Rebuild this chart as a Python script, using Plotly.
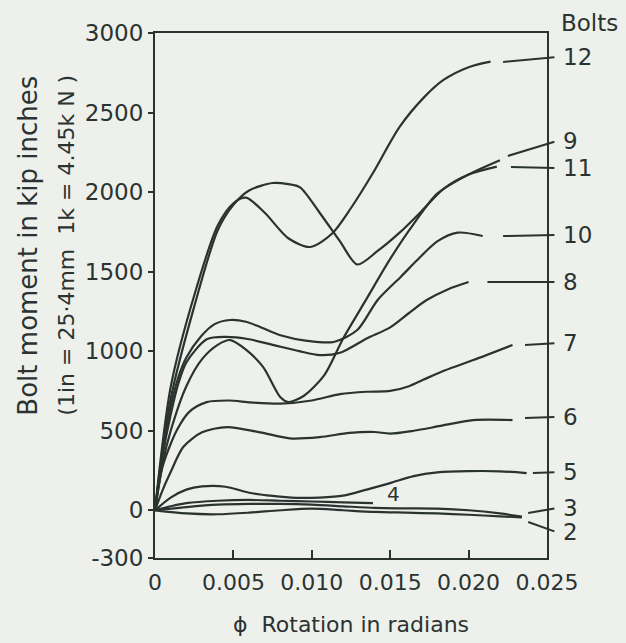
import plotly.graph_objects as go

# ---------------- data ----------------
x12 = [0, 0.001, 0.0025, 0.004, 0.005, 0.0058, 0.007, 0.0085, 0.0099, 0.0113, 0.0125, 0.0139, 0.0156, 0.0172, 0.0184, 0.020, 0.0214]
y12 = [0, 775, 1350, 1790, 1930, 1965, 1870, 1710, 1655, 1740, 1900, 2120, 2410, 2600, 2705, 2785, 2820]

x11 = [0, 0.001, 0.0025, 0.004, 0.005, 0.006, 0.0075, 0.0085, 0.00925, 0.0105, 0.0118, 0.0129, 0.0142, 0.0156, 0.017, 0.0184, 0.020, 0.0218]
y11 = [0, 700, 1280, 1760, 1920, 2010, 2057, 2050, 2030, 1870, 1690, 1545, 1630, 1745, 1880, 2020, 2110, 2160]

x9 = [0, 0.0005, 0.001, 0.002, 0.003, 0.004, 0.0048, 0.0058, 0.0069, 0.008, 0.0085, 0.0095, 0.0108, 0.012, 0.0135, 0.015, 0.0165, 0.018, 0.020, 0.022]
y9 = [0, 300, 500, 780, 950, 1040, 1070, 1010, 900, 710, 680, 720, 850, 1080, 1330, 1580, 1800, 1990, 2110, 2200]

x10 = [0, 0.0005, 0.001, 0.0015, 0.002, 0.0029, 0.0038, 0.0048, 0.0058, 0.0067, 0.008, 0.0097, 0.0114, 0.0129, 0.0142, 0.0157, 0.0169, 0.018, 0.0193, 0.0209]
y10 = [0, 380, 650, 840, 960, 1089, 1170, 1196, 1185, 1152, 1100, 1065, 1058, 1133, 1322, 1470, 1590, 1690, 1745, 1724]

x8 = [0, 0.0005, 0.001, 0.0015, 0.002, 0.0033, 0.0045, 0.006, 0.0075, 0.0092, 0.0105, 0.0118, 0.0135, 0.015, 0.0162, 0.0173, 0.0187, 0.020]
y8 = [0, 350, 600, 800, 930, 1075, 1090, 1075, 1040, 1000, 975, 990, 1080, 1150, 1240, 1320, 1390, 1435]

x7 = [0, 0.0005, 0.0014, 0.0022, 0.0033, 0.0047, 0.0061, 0.008, 0.010, 0.0118, 0.0135, 0.015, 0.0162, 0.0171, 0.0185, 0.0203, 0.0228]
y7 = [0, 280, 504, 620, 680, 690, 678, 670, 690, 730, 745, 750, 780, 820, 880, 944, 1039]

x6 = [0, 0.0005, 0.001, 0.0018, 0.003, 0.0046, 0.0067, 0.0086, 0.0105, 0.0124, 0.014, 0.015, 0.0165, 0.0182, 0.0203, 0.0228]
y6 = [0, 130, 240, 398, 490, 523, 490, 452, 460, 486, 492, 482, 500, 530, 567, 567]

x5 = [0, 0.001, 0.002, 0.003, 0.0045, 0.006, 0.0075, 0.009, 0.0105, 0.012, 0.0135, 0.015, 0.0165, 0.018, 0.020, 0.022, 0.0237]
y5 = [0, 80, 130, 150, 148, 110, 90, 78, 80, 92, 130, 171, 215, 238, 246, 245, 234]

x4 = [0, 0.001, 0.002, 0.004, 0.006, 0.008, 0.010, 0.012, 0.0139]
y4 = [0, 25, 45, 60, 65, 60, 55, 50, 45]

x3 = [0, 0.002, 0.004, 0.006, 0.008, 0.010, 0.012, 0.014, 0.016, 0.018, 0.020, 0.022, 0.0234]
y3 = [0, 20, 35, 40, 40, 35, 25, 15, 12, 10, 0, -20, -40]

x2 = [0, 0.002, 0.004, 0.006, 0.008, 0.010, 0.012, 0.014, 0.016, 0.018, 0.020, 0.022, 0.0234]
y2 = [0, -20, -25, -15, 0, 10, 0, -10, -15, -20, -28, -38, -45]

bolt_labels = ["12", "9", "11", "10", "8", "7", "6", "5", "3", "2"]
label_y = [2849, 2320, 2151, 1730, 1435, 1051, 586, 240, 14, -137]
leader_x0 = [0.0222, 0.0225, 0.0227, 0.0222, 0.0212, 0.0236, 0.0236, 0.0241, 0.0238, 0.0238]
leader_y0 = [2818, 2227, 2158, 1724, 1435, 1039, 580, 234, -17, -74]

x_ticks = [0, 0.005, 0.010, 0.015, 0.020, 0.025]
x_ticktext = ["0", "0.005", "0.010", "0.015", "0.020", "0.025"]
y_ticks = [-300, 0, 500, 1000, 1500, 2000, 2500, 3000]
y_ticktext = ["-300", "0", "500", "1000", "1500", "2000", "2500", "3000"]

curves = [(x12, y12), (x11, y11), (x9, y9), (x10, y10), (x8, y8), (x7, y7),
          (x6, y6), (x5, y5), (x4, y4), (x3, y3), (x2, y2)]

# ---------------- style ----------------
INK = "#2b3330"
BG = "#eef0ec"
FONT = "DejaVu Sans"

fig = go.Figure()
for xs, ys in curves:
    fig.add_trace(go.Scatter(x=xs, y=ys, mode="lines",
                             line=dict(color=INK, width=2.2, shape="spline", smoothing=0.8),
                             hoverinfo="skip", showlegend=False))

ann = []
for lab, ly, lx0, ly0 in zip(bolt_labels, label_y, leader_x0, leader_y0):
    ann.append(dict(x=lx0, y=ly0, xref="x", yref="y", ax=0.0256, ay=ly,
                    axref="x", ayref="y", text=" ", showarrow=True, arrowhead=0,
                    arrowwidth=2, arrowcolor=INK, font=dict(size=2)))
    ann.append(dict(x=1, y=ly, xref="paper", yref="y", xshift=14, xanchor="left",
                    yanchor="middle", text=lab, showarrow=False,
                    font=dict(family=FONT, size=23, color=INK)))

ann.append(dict(x=1, y=1, xref="paper", yref="paper", xshift=12, yshift=10,
                xanchor="left", yanchor="middle", text="Bolts", showarrow=False,
                font=dict(family=FONT, size=23, color=INK)))
ann.append(dict(x=0.0152, y=100, xref="x", yref="y", text="4", showarrow=False,
                font=dict(family=FONT, size=20, color=INK)))
ann.append(dict(x=0, y=0.595, xref="paper", yref="paper", xshift=-127,
                xanchor="center", yanchor="middle", textangle=-90,
                text="Bolt moment in kip inches", showarrow=False,
                font=dict(family=FONT, size=26, color=INK)))
ann.append(dict(x=0, y=0.595, xref="paper", yref="paper", xshift=-88,
                xanchor="center", yanchor="middle", textangle=-90,
                text="(1in = 25·4mm  1k = 4.45k N )", showarrow=False,
                font=dict(family=FONT, size=22, color=INK)))
ann.append(dict(x=0.5, y=0, xref="paper", yref="paper", yshift=-66,
                xanchor="center", yanchor="middle",
                text="ϕ  Rotation in radians", showarrow=False,
                font=dict(family=FONT, size=22, color=INK)))

fig.update_layout(
    width=626, height=643,
    margin=dict(l=155, r=79, t=33, b=85),
    paper_bgcolor=BG, plot_bgcolor=BG,
    font=dict(family=FONT, size=22, color=INK),
    annotations=ann,
    showlegend=False,
)
fig.update_xaxes(range=[0, 0.025], tickvals=x_ticks, ticktext=x_ticktext,
                 ticks="inside", ticklen=8, tickwidth=2, tickcolor=INK,
                 ticklabelstandoff=4,
                 showline=True, linewidth=2, linecolor=INK, mirror=True,
                 showgrid=False, zeroline=False,
                 tickfont=dict(family=FONT, size=22, color=INK))
fig.update_yaxes(range=[-300, 3000], tickvals=y_ticks, ticktext=y_ticktext,
                 ticks="outside", ticklen=5, tickwidth=2, tickcolor=INK,
                 showline=True, linewidth=2, linecolor=INK, mirror=True,
                 showgrid=False, zeroline=False,
                 tickfont=dict(family=FONT, size=23, color=INK))

fig.write_html("out.html")
